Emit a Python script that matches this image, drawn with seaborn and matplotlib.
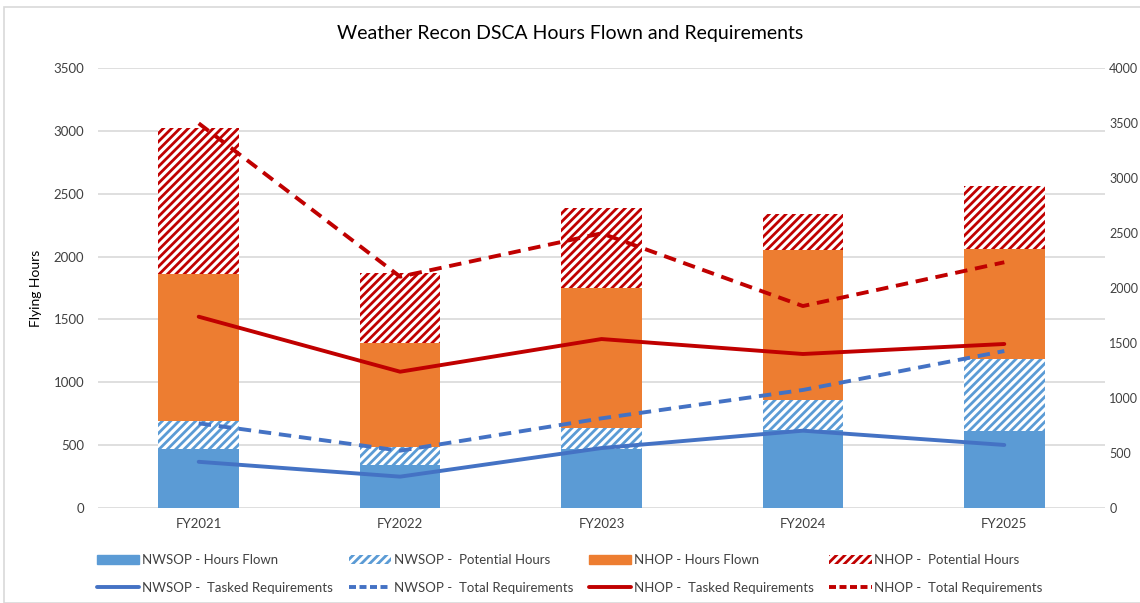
import matplotlib
matplotlib.use('Agg')
import matplotlib.pyplot as plt
import matplotlib.patches as mpatches
from matplotlib.lines import Line2D
import pandas as pd
import seaborn as sns

# ---- data ----
years = ['FY2021', 'FY2022', 'FY2023', 'FY2024', 'FY2025']

nwsop_flown     = [470, 342, 467, 620, 615]
nwsop_potential = [225, 146, 169, 239, 568]
nhop_flown      = [1167, 822, 1112, 1193, 875]
nhop_potential  = [1159, 562, 636, 287, 504]

nwsop_tasked = [420, 285, 545, 703, 573]
nwsop_total  = [770, 521, 815, 1073, 1427]
nhop_tasked  = [1739, 1239, 1536, 1400, 1491]
nhop_total   = [3497, 2103, 2497, 1836, 2234]

# ---- colours ----
C_BLUE_BAR = '#5B9BD5'
C_ORANGE   = '#ED7D31'
C_RED      = '#C00000'
C_BLUE_LN  = '#4472C4'
C_GRID     = '#D9D9D9'
C_TEXT     = '#404040'

sns.set_style('white')
plt.rcParams['font.family'] = ['Lato', 'DejaVu Sans']
plt.rcParams['hatch.linewidth'] = 2.0

df = pd.DataFrame({'year': years})
df['s1'] = nwsop_flown
df['s2'] = df['s1'] + nwsop_potential
df['s3'] = df['s2'] + nhop_flown
df['s4'] = df['s3'] + nhop_potential

fig = plt.figure(figsize=(11.4, 6.03), dpi=100)
ax = fig.add_axes([98 / 1140, 1 - 508 / 603, (1105 - 98) / 1140, (508 - 68) / 603])

# stacked bars drawn as overlapping cumulative totals, top segment first
layers = [
    ('s4', 'white', C_RED, '////'),
    ('s3', C_ORANGE, C_ORANGE, None),
    ('s2', 'white', C_BLUE_BAR, '////'),
    ('s1', C_BLUE_BAR, C_BLUE_BAR, None),
]
for col, face, edge, hatch in layers:
    sns.barplot(data=df, x='year', y=col, ax=ax, color=face, width=0.4,
                edgecolor=edge, hatch=hatch, linewidth=0, saturation=1, zorder=2)
for p in ax.patches:
    if p.get_hatch():
        p.set_facecolor('white')

ax.set_ylim(0, 3500)
ax.set_yticks(range(0, 3501, 500))
ax.set_xlim(-0.5, 4.5)
ax.yaxis.grid(True, color=C_GRID, linewidth=1.2, zorder=0)
ax.set_axisbelow(True)
for s in ax.spines.values():
    s.set_visible(False)
ax.tick_params(axis='both', length=0, labelsize=9.5, colors=C_TEXT)
ax.tick_params(axis='y', pad=10)
ax.tick_params(axis='x', pad=7)
ax.set_xlabel('')
ax.set_ylabel('Flying Hours', fontsize=10, color='black', labelpad=8)

# requirement lines on secondary axis
ax2 = ax.twinx()
line_specs = [
    (nwsop_tasked, C_BLUE_LN, '-'),
    (nwsop_total, C_BLUE_LN, '--'),
    (nhop_tasked, C_RED, '-'),
    (nhop_total, C_RED, '--'),
]
for vals, colr, ls in line_specs:
    sns.lineplot(x=years, y=vals, ax=ax2, color=colr, linewidth=2.8,
                 linestyle=ls, sort=False, dashes=False, zorder=3)
for ln in ax2.get_lines():
    if ln.get_linestyle() == '--':
        ln.set_dashes([3.2, 2.0])
ax2.set_ylim(0, 4000)
ax2.set_yticks(range(0, 4001, 500))
ax2.set_xlim(-0.5, 4.5)
for s in ax2.spines.values():
    s.set_visible(False)
ax2.tick_params(axis='y', length=0, labelsize=9, colors=C_TEXT, pad=3)
ax2.set_ylabel('')

fig.suptitle('Weather Recon DSCA Hours Flown and Requirements',
             y=1 - 34 / 603, va='center', fontsize=14, color='black')

# legend: column-major order so the two rows read like the reference
dash_leg = (0, (1.8, 0.9))
handles = [
    mpatches.Patch(facecolor=C_BLUE_BAR, edgecolor=C_BLUE_BAR, label='NWSOP - Hours Flown'),
    Line2D([], [], color=C_BLUE_LN, lw=2.8, label='NWSOP -  Tasked Requirements'),
    mpatches.Patch(facecolor='white', edgecolor=C_BLUE_BAR, hatch='////', lw=0,
                   label='NWSOP -  Potential Hours'),
    Line2D([], [], color=C_BLUE_LN, lw=2.8, ls=dash_leg, label='NWSOP -  Total Requirements'),
    mpatches.Patch(facecolor=C_ORANGE, edgecolor=C_ORANGE, label='NHOP - Hours Flown'),
    Line2D([], [], color=C_RED, lw=2.8, label='NHOP -  Tasked Requirements'),
    mpatches.Patch(facecolor='white', edgecolor=C_RED, hatch='////', lw=0,
                   label='NHOP -  Potential Hours'),
    Line2D([], [], color=C_RED, lw=2.8, ls=dash_leg, label='NHOP -  Total Requirements'),
]
fig.legend(handles=handles, ncol=4, loc='center', bbox_to_anchor=(0.5, 1 - 574 / 603),
           frameon=False, fontsize=9.5, handlelength=3.2, handleheight=0.6,
           handletextpad=0.2, columnspacing=1.2, labelspacing=1.2,
           labelcolor=C_TEXT)

# light chart border like the source
fig.patches.append(mpatches.Rectangle((4 / 1140, 0), 1.0, 1 - 7 / 603,
                                      transform=fig.transFigure, fill=False,
                                      edgecolor=C_GRID, linewidth=1.2))

fig.savefig('out.png', dpi=100)
